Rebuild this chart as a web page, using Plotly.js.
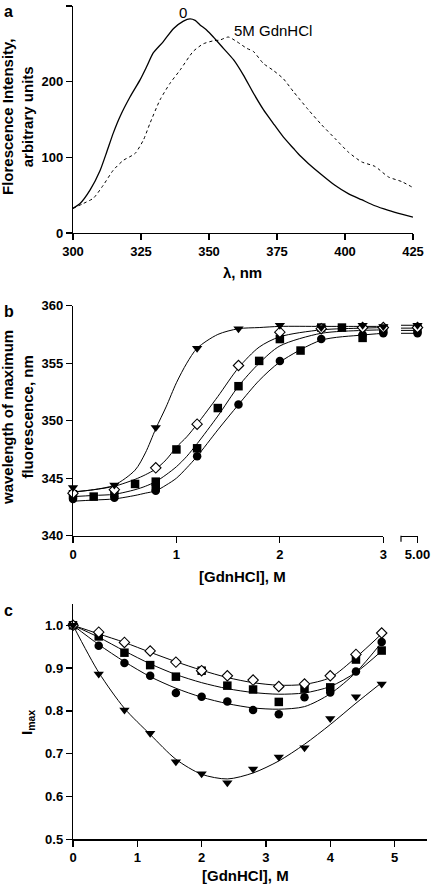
<!DOCTYPE html>
<html>
<head>
<meta charset="utf-8">
<script src="https://cdn.plot.ly/plotly-3.0.1.min.js"></script>
<style>
html,body{margin:0;padding:0;background:#fff;}
#chart{width:431px;height:886px;}
</style>
</head>
<body>
<div id="chart"></div>
<script>
// ---------- Panel a: emission spectra ----------
var wlNative = [300, 302.6, 306.3, 310, 312.4, 314.8, 317.3, 321, 324.6, 327.1, 329.5, 333.2, 336.9, 340.6, 343, 344.9, 346.7, 349.2, 351.6, 355.3, 359, 362.6, 366.3, 370, 373.6, 377.3, 381, 383.5, 386.5, 391.4, 396.3, 401.2, 406.1, 411, 416, 420.8, 425];
var intNative = [32.6, 39, 57, 83, 107, 132, 154, 180, 202, 220, 238, 253, 270, 280, 283, 281, 275, 268, 259, 244, 229, 209, 185, 163, 145, 127, 112, 102, 92, 77, 63, 52, 44, 36, 30, 25, 21];
var wl5M = [300, 303.8, 307.5, 311.1, 314.8, 318.5, 322.8, 325.9, 328.3, 332, 335.7, 339.3, 344.2, 347.9, 351.6, 354, 357.1, 360.2, 363.9, 366.3, 370, 373.6, 377.3, 381, 386.5, 391.4, 396.3, 401.2, 406.1, 411, 416, 420.8, 424.5];
var int5M = [32.6, 39, 46, 63, 83, 96, 105, 123, 145, 176, 198, 215, 240, 250, 254, 255, 259, 253, 244, 240, 224, 215, 204, 187, 163, 143, 125, 107, 94, 88, 74, 68, 61];
var labelNative = "0";
var label5M = "5M GdnHCl";

// ---------- Panel b: wavelength of maximum fluorescence ----------
var bTriX = [0, 0.4, 0.8, 1.2, 1.6, 2.0, 2.4, 2.8, 3.0];
var bTriY = [344.2, 344.4, 349.4, 356.3, 358.0, 358.3, 358.1, 358.3, 358.2];
var bDiaX = [0, 0.4, 0.8, 1.2, 1.6, 2.0, 2.4, 2.8, 3.0];
var bDiaY = [343.7, 344.0, 345.9, 349.7, 354.8, 357.7, 358.0, 358.1, 358.1];
var bSqX = [0, 0.2, 0.4, 0.6, 0.8, 0.8, 1.0, 1.2, 1.4, 1.6, 1.8, 2.0, 2.2, 2.4, 2.6, 2.8, 3.0];
var bSqY = [343.6, 343.4, 343.7, 344.5, 344.7, 344.2, 347.5, 347.6, 351.1, 353.0, 355.2, 357.1, 356.1, 358.1, 358.1, 357.2, 358.0];
var bCirX = [0, 0.4, 0.8, 1.2, 1.6, 2.0, 2.4, 2.8, 3.0];
var bCirY = [343.2, 343.3, 343.9, 346.9, 351.4, 355.2, 357.1, 357.5, 357.6];
// values at 5.00 M (broken axis)
var bBreakX = [5.0];
var bTriBreak = [358.3];
var bDiaBreak = [358.1];
var bSqBreak = [358.0];
var bCirBreak = [357.6];
var bBreakTickLabel = "5.00";
// fitted curves
var bFitX = [0, 0.2, 0.4, 0.6, 0.7, 0.8, 0.9, 1.0, 1.1, 1.2, 1.4, 1.6, 1.8, 2.0, 2.4, 2.8, 3.0];
var bFitTri = [343.8, 344.0, 344.4, 345.7, 347.2, 349.3, 351.2, 353.3, 355.0, 356.3, 357.5, 358.0, 358.1, 358.2, 358.2, 358.2, 358.2];
var bFitDia = [343.8, 344.0, 344.3, 344.9, 345.3, 345.8, 346.6, 347.7, 348.6, 349.7, 352.1, 354.6, 356.4, 357.3, 357.9, 358.05, 358.1];
var bFitSq = [343.4, 343.5, 343.6, 344.0, 344.3, 344.7, 345.3, 346.0, 346.9, 348.0, 350.4, 353.0, 355.0, 356.5, 357.6, 357.85, 357.9];
var bFitCir = [343.0, 343.1, 343.2, 343.5, 343.7, 343.9, 344.4, 345.0, 345.9, 346.9, 349.2, 351.4, 353.5, 355.1, 357.0, 357.45, 357.6];
var bFitBreakX = [4.9, 5.0];
var bFitTriBreak = [358.3, 358.3];
var bFitDiaBreak = [358.05, 358.05];
var bFitSqBreak = [357.85, 357.85];
var bFitCirBreak = [357.6, 357.6];

// ---------- Panel c: Imax ----------
var cX = [0, 0.4, 0.8, 1.2, 1.6, 2.0, 2.4, 2.8, 3.2, 3.6, 4.0, 4.4, 4.8];
var cDia = [1.0, 0.984, 0.960, 0.940, 0.914, 0.894, 0.882, 0.872, 0.857, 0.863, 0.882, 0.932, 0.982];
var cSq = [1.0, 0.974, 0.936, 0.907, 0.880, 0.894, 0.859, 0.850, 0.821, 0.852, 0.855, 0.920, 0.941];
var cCir = [1.0, 0.952, 0.912, 0.882, 0.842, 0.833, 0.822, 0.802, 0.792, 0.832, 0.843, 0.892, 0.961];
var cTri = [1.0, 0.886, 0.802, 0.748, 0.681, 0.653, 0.632, 0.664, 0.692, 0.714, 0.782, 0.833, 0.863];
var cFitDia = [1.0, 0.980, 0.960, 0.937, 0.915, 0.895, 0.878, 0.866, 0.860, 0.862, 0.878, 0.925, 0.980];
var cFitSq = [1.0, 0.972, 0.940, 0.910, 0.885, 0.866, 0.852, 0.843, 0.839, 0.842, 0.857, 0.890, 0.940];
var cFitCir = [1.0, 0.955, 0.915, 0.880, 0.853, 0.832, 0.817, 0.807, 0.804, 0.810, 0.840, 0.890, 0.960];
var cFitTri = [1.0, 0.890, 0.806, 0.745, 0.687, 0.652, 0.641, 0.655, 0.683, 0.722, 0.768, 0.818, 0.866];

// ---------- layout helpers ----------
var W = 431, H = 886;
function px(x){ return x / W; }
function py(y){ return 1 - y / H; }
var FONT = "Arial, 'Liberation Sans', sans-serif";
var tickFont = {family: FONT, size: 13, color: '#000', weight: 'bold'};

function axis(extra){
  var a = {
    showline: true, linecolor: '#000', linewidth: 1.2,
    ticks: 'outside', ticklen: 6, tickwidth: 1.2, tickcolor: '#000',
    showgrid: false, zeroline: false, tickfont: tickFont, fixedrange: true
  };
  for (var k in extra) a[k] = extra[k];
  return a;
}

function fit(x, y, xa, ya){
  return {x: x, y: y, xaxis: xa, yaxis: ya, mode: 'lines', type: 'scatter',
    line: {color: '#000', width: 1, shape: 'spline', smoothing: 0.8}, hoverinfo: 'skip', cliponaxis: false};
}
function pts(x, y, xa, ya, sym, size, hollow){
  return {x: x, y: y, xaxis: xa, yaxis: ya, mode: 'markers', type: 'scatter', cliponaxis: false,
    marker: {symbol: sym, size: size, color: hollow ? '#fff' : '#000',
      line: {color: '#000', width: hollow ? 1.1 : 0}}};
}

var SZ_CIR = 8.5, SZ_SQ = 8.5, SZ_DIA = 8, SZ_TRI = 9;

var traces = [];
// panel a
traces.push({x: wlNative, y: intNative, xaxis: 'x', yaxis: 'y', mode: 'lines', type: 'scatter',
  line: {color: '#000', width: 1.3, shape: 'spline', smoothing: 0.6}});
traces.push({x: wl5M, y: int5M, xaxis: 'x', yaxis: 'y', mode: 'lines', type: 'scatter',
  line: {color: '#000', width: 1, dash: 'dot', shape: 'spline', smoothing: 0.6}});

// panel b fits
traces.push(fit(bFitX, bFitTri, 'x2', 'y2'));
traces.push(fit(bFitX, bFitDia, 'x2', 'y2'));
traces.push(fit(bFitX, bFitSq, 'x2', 'y2'));
traces.push(fit(bFitX, bFitCir, 'x2', 'y2'));
traces.push(fit(bFitBreakX, bFitTriBreak, 'x3', 'y2'));
traces.push(fit(bFitBreakX, bFitDiaBreak, 'x3', 'y2'));
traces.push(fit(bFitBreakX, bFitSqBreak, 'x3', 'y2'));
traces.push(fit(bFitBreakX, bFitCirBreak, 'x3', 'y2'));
// panel b points
traces.push(pts(bCirX, bCirY, 'x2', 'y2', 'circle', SZ_CIR, false));
traces.push(pts(bSqX, bSqY, 'x2', 'y2', 'square', SZ_SQ, false));
traces.push(pts(bDiaX, bDiaY, 'x2', 'y2', 'diamond', SZ_DIA, true));
traces.push(pts(bTriX, bTriY, 'x2', 'y2', 'triangle-down', SZ_TRI, false));
traces.push(pts(bBreakX, bCirBreak, 'x3', 'y2', 'circle', SZ_CIR, false));
traces.push(pts(bBreakX, bSqBreak, 'x3', 'y2', 'square', SZ_SQ, false));
traces.push(pts(bBreakX, bDiaBreak, 'x3', 'y2', 'diamond', SZ_DIA, true));
traces.push(pts(bBreakX, bTriBreak, 'x3', 'y2', 'triangle-down', SZ_TRI, false));

// panel c fits
traces.push(fit(cX, cFitDia, 'x4', 'y4'));
traces.push(fit(cX, cFitSq, 'x4', 'y4'));
traces.push(fit(cX, cFitCir, 'x4', 'y4'));
traces.push(fit(cX, cFitTri, 'x4', 'y4'));
// panel c points
traces.push(pts(cX, cCir, 'x4', 'y4', 'circle', SZ_CIR, false));
traces.push(pts(cX, cSq, 'x4', 'y4', 'square', SZ_SQ, false));
traces.push(pts(cX, cDia, 'x4', 'y4', 'diamond', SZ_DIA, true));
traces.push(pts(cX, cTri, 'x4', 'y4', 'triangle-down', SZ_TRI, false));

var titleFont = {family: FONT, size: 15, color: '#000', weight: 'bold'};
function ann(text, x, y, opts){
  var a = {text: text, x: x, y: y, xref: 'paper', yref: 'paper', showarrow: false,
    xanchor: 'center', yanchor: 'middle', font: titleFont};
  for (var k in opts) a[k] = opts[k];
  return a;
}

var layout = {
  width: W, height: H,
  margin: {l: 0, r: 0, t: 0, b: 0},
  paper_bgcolor: '#fff', plot_bgcolor: 'rgba(0,0,0,0)',
  showlegend: false,
  xaxis: axis({domain: [px(73), px(413)], range: [300, 425], tickvals: [300, 325, 350, 375, 400, 425], anchor: 'y'}),
  yaxis: axis({domain: [py(233), py(6)], range: [0, 300], tickvals: [0, 100, 200, 300], anchor: 'x'}),
  xaxis2: axis({domain: [px(73), px(383.3)], range: [0, 3], tickvals: [0, 1, 2, 3], anchor: 'y2'}),
  yaxis2: axis({domain: [py(535.7), py(305.7)], range: [340, 360], tickvals: [340, 345, 350, 355, 360], anchor: 'x2'}),
  xaxis3: axis({domain: [px(401), px(417.5)], range: [4.9, 5.0], tickvals: bBreakX, ticktext: [bBreakTickLabel], anchor: 'y2'}),
  xaxis4: axis({domain: [px(73), px(426.7)], range: [0, 5.5], tickvals: [0, 1, 2, 3, 4, 5], anchor: 'y4'}),
  yaxis4: axis({domain: [py(839.3), py(603.9)], range: [0.5, 1.05], tickvals: [0.5, 0.6, 0.7, 0.8, 0.9, 1.0], tickformat: '.1f', anchor: 'x4'}),
  shapes: [
    // left-end tick of the broken-axis segment
    {type: 'line', xref: 'paper', yref: 'paper', x0: px(401), x1: px(401), y0: py(535.7), y1: py(541.7),
      line: {color: '#000', width: 1.2}}
  ],
  annotations: [
    ann('a', px(2), py(1), {xanchor: 'left', yanchor: 'top', font: {family: FONT, size: 16, color: '#000', weight: 'bold'}}),
    ann('b', px(2), py(301), {xanchor: 'left', yanchor: 'top', font: {family: FONT, size: 16, color: '#000', weight: 'bold'}}),
    ann('c', px(2), py(600), {xanchor: 'left', yanchor: 'top', font: {family: FONT, size: 16, color: '#000', weight: 'bold'}}),
    ann('Florescence Intensity,<br>arbitrary units', px(17), py(117), {textangle: -90}),
    ann('λ, nm', px(243), py(272)),
    ann('wavelength of maximum<br>fluorescence, nm', px(17), py(418), {textangle: -90}),
    ann('[GdnHCl], M', px(243), py(576)),
    ann('I<sub>max</sub>', px(27), py(723), {textangle: -90}),
    ann('[GdnHCl], M', px(245), py(875)),
    {text: labelNative, x: 340.4, y: 291, xref: 'x', yref: 'y', showarrow: false, xanchor: 'center', yanchor: 'middle',
      font: {family: FONT, size: 15, color: '#000'}},
    {text: label5M, x: 358.5, y: 267, xref: 'x', yref: 'y', showarrow: false, xanchor: 'left', yanchor: 'middle',
      font: {family: FONT, size: 15, color: '#000'}}
  ]
};

Plotly.newPlot('chart', traces, layout, {staticPlot: true, displayModeBar: false});
</script>
</body>
</html>
